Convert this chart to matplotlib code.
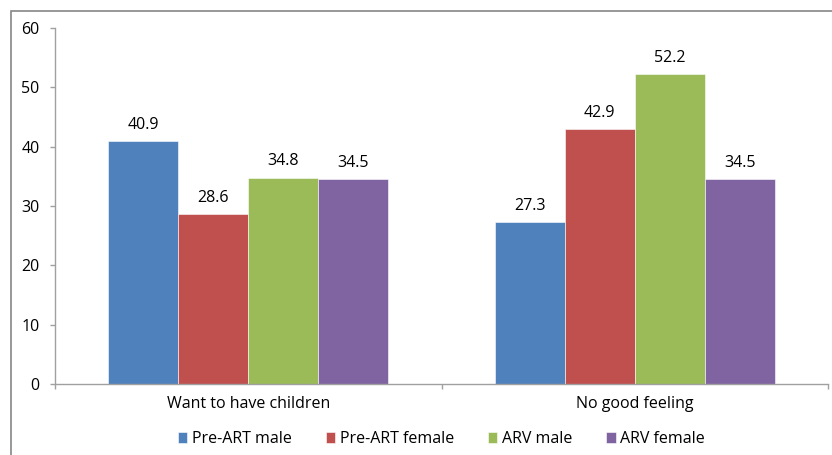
import matplotlib
matplotlib.use("Agg")
import matplotlib.pyplot as plt
from matplotlib.patches import Rectangle
import numpy as np

plt.rcParams['font.family'] = ['Open Sans', 'DejaVu Sans']

categories = ["Want to have children", "No good feeling"]
series_names = ["Pre-ART male", "Pre-ART female", "ARV male", "ARV female"]
values = {
    "Pre-ART male": [40.9, 27.3],
    "Pre-ART female": [28.6, 42.9],
    "ARV male": [34.8, 52.2],
    "ARV female": [34.5, 34.5],
}
colors = ["#4F81BD", "#C0504D", "#9BBB59", "#8064A2"]
yticks = [0, 10, 20, 30, 40, 50, 60]

fs = 11.5

fig = plt.figure(figsize=(8.32, 4.55), dpi=100)
ax = fig.add_axes([55/832, 1 - 384/455, (828 - 55)/832, (384 - 28)/455])

# outer chart frame
fig.patches.append(Rectangle((11/832, -0.05), 1.1, 1 - 11/455 + 0.05,
                             transform=fig.transFigure, fill=False,
                             edgecolor="#868686", linewidth=1.2))

x = np.arange(len(categories))
width = 70/386.5
n = len(series_names)
for i, (name, c) in enumerate(zip(series_names, colors)):
    offs = (i - (n - 1)/2) * width
    bars = ax.bar(x + offs, values[name], width, color=c, label=name,
                  edgecolor="white", linewidth=0.4, zorder=2)
    for b, v in zip(bars, values[name]):
        ax.text(b.get_x() + b.get_width()/2, v + 1.4, f"{v:.1f}",
                ha="center", va="bottom", fontsize=fs, color="black")

ax.set_xlim(-0.5, 1.5)
ax.set_ylim(0, 60)
ax.set_yticks(yticks)
ax.set_yticklabels([str(t) for t in yticks], fontsize=fs)
ax.set_xticks([-0.5, 0.5, 1.5], minor=False)
ax.set_xticklabels([])
ax.set_xticks(x, minor=True)
ax.set_xticklabels(categories, minor=True, fontsize=fs)
ax.tick_params(axis="x", which="minor", length=0, pad=9)
ax.tick_params(axis="x", which="major", length=3.6, color="#A0A0A0", width=1)
ax.tick_params(axis="y", length=3.6, color="#A0A0A0", width=1, pad=7.5)

for s in ["top", "right"]:
    ax.spines[s].set_visible(False)
for s in ["left", "bottom"]:
    ax.spines[s].set_color("#A0A0A0")
    ax.spines[s].set_linewidth(1)

ax.legend(loc="center", bbox_to_anchor=(0.5, -0.155), ncol=4, frameon=False,
          fontsize=fs, handlelength=0.6, handleheight=0.6, handletextpad=0.3,
          columnspacing=2.1)

fig.savefig("out.png", dpi=100)
